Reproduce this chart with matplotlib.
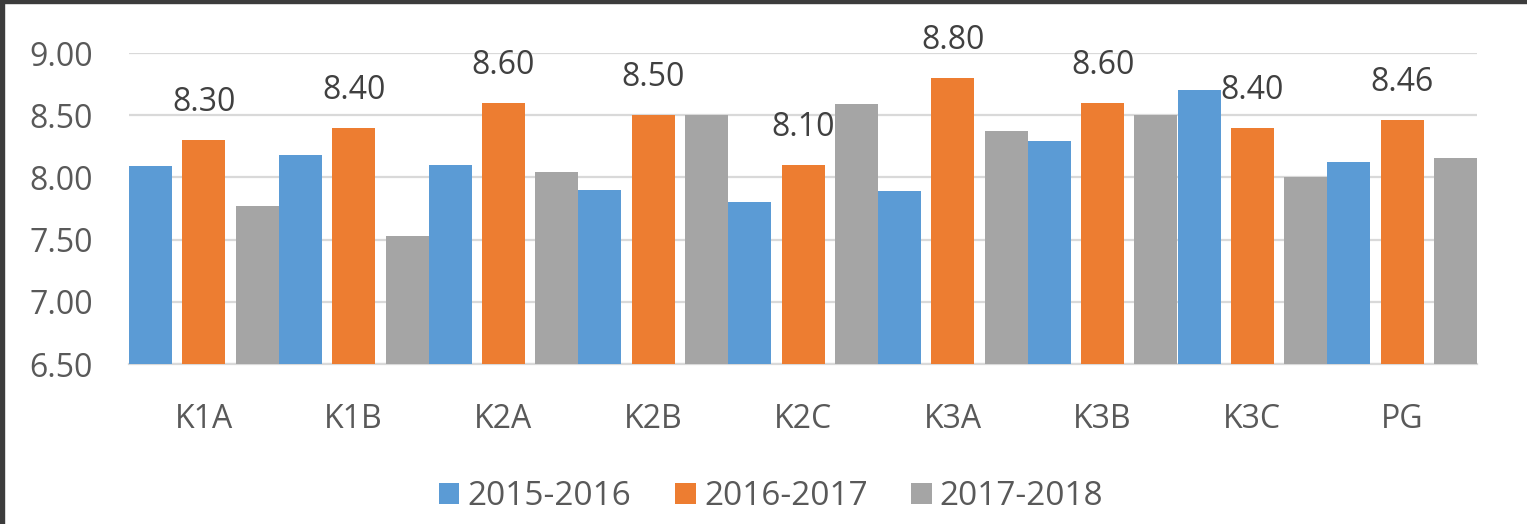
import numpy as np
import matplotlib
matplotlib.use("Agg")
import matplotlib.pyplot as plt
from matplotlib.patches import Rectangle

# Data
categories = ["K1A", "K1B", "K2A", "K2B", "K2C", "K3A", "K3B", "K3C", "PG"]
series_names = ["2015-2016", "2016-2017", "2017-2018"]
vals_2015 = [8.09, 8.18, 8.10, 7.90, 7.80, 7.89, 8.29, 8.70, 8.12]
vals_2016 = [8.30, 8.40, 8.60, 8.50, 8.10, 8.80, 8.60, 8.40, 8.46]
vals_2017 = [7.77, 7.53, 8.04, 8.50, 8.59, 8.37, 8.50, 8.00, 8.16]
yticks = [6.50, 7.00, 7.50, 8.00, 8.50, 9.00]

colors = ["#5B9BD5", "#ED7D31", "#A5A5A5"]
text_color = "#595959"
grid_color = "#D9D9D9"

plt.rcParams["font.family"] = ["Open Sans", "DejaVu Sans"]

fig = plt.figure(figsize=(15.27, 5.24), dpi=100)
ax = fig.add_axes([0.0845, 0.3053, 0.8828, 0.5935])

x = np.arange(len(categories))
width = 0.287
offset = 0.356
all_vals = [vals_2015, vals_2016, vals_2017]
bars = []
for i, (vals, name, c) in enumerate(zip(all_vals, series_names, colors)):
    b = ax.bar(x + (i - 1) * offset, np.array(vals) - 6.5, width, bottom=6.5,
               color=c, label=name, zorder=3)
    bars.append(b)

# value labels only on the middle series
for xi, v in zip(x, vals_2016):
    ax.annotate(f"{v:.2f}", (xi, v), xytext=(0, 21), textcoords="offset points",
                ha="center", va="baseline", fontsize=23, color="#404040")

ax.set_xlim(-0.5, len(categories) - 0.5)
ax.set_ylim(6.5, 9.0)
ax.set_yticks(yticks)
ax.set_yticklabels([f"{t:.2f}" for t in yticks])
ax.set_xticks(x)
ax.set_xticklabels(categories)
ax.tick_params(axis="both", length=0, labelsize=23, labelcolor=text_color)
ax.tick_params(axis="y", pad=26)
ax.tick_params(axis="x", pad=28)

ax.yaxis.grid(True, color=grid_color, lw=1.6, zorder=0)
for s in ["top", "right", "left"]:
    ax.spines[s].set_visible(False)
ax.spines["bottom"].set_color(grid_color)
ax.spines["bottom"].set_linewidth(1.6)

fig.legend(loc="center", bbox_to_anchor=(0.505, 0.052), ncol=3, frameon=False,
           fontsize=24, labelcolor=text_color, handlelength=0.62, handleheight=0.62,
           handletextpad=0.25, columnspacing=1.3)

# dark frame edges along top and left of the screenshot
fig.patches.append(Rectangle((0, 1 - 2.5 / 524), 1, 2.5 / 524, transform=fig.transFigure,
                             color="#3c3c3c", zorder=10))
fig.patches.append(Rectangle((0, 0), 3.5 / 1527, 1, transform=fig.transFigure,
                             color="#3c3c3c", zorder=10))

fig.savefig("out.png", dpi=100)
